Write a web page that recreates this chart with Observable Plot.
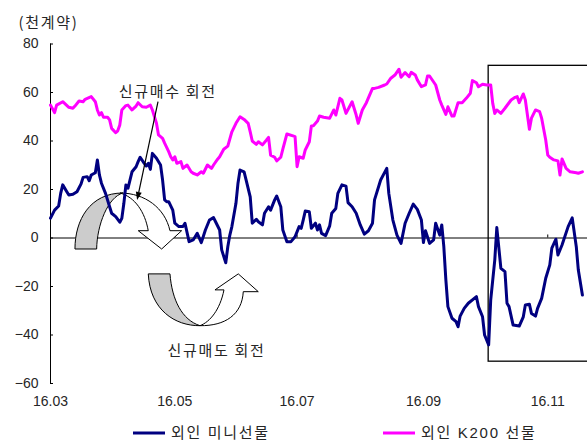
<!DOCTYPE html>
<html>
<head>
<meta charset="utf-8">
<script src="https://cdn.jsdelivr.net/npm/d3@7"></script>
<script src="https://cdn.jsdelivr.net/npm/@observablehq/plot@0.6"></script>
<style>
  html, body { margin: 0; padding: 0; background: #fff; }
  svg { display: block; }
</style>
</head>
<body>
<div id="chart"></div>
<script>
// Foreign open interest in KOSPI200 futures (thousand contracts), 2016
const YEAR = 2016;

// 외인 미니선물
const miniDates = [
  "03-02","03-04","03-06","03-07","03-08","03-10","03-11","03-13","03-15","03-17",
  "03-18","03-20","03-21","03-22","03-24","03-25","03-26","03-27","03-29","03-31",
  "04-01","04-03","04-05","04-06","04-07","04-08","04-09","04-10","04-11","04-13",
  "04-14","04-15","04-17","04-18","04-19","04-20","04-21","04-23","04-25","04-26",
  "04-27","04-28","04-29","05-01","05-02","05-04","05-06","05-07","05-09","05-11",
  "05-13","05-15","05-17","05-19","05-21","05-22","05-24","05-25","05-27","05-28",
  "05-29","05-30","06-01","06-02","06-03","06-05","06-06","06-08","06-09","06-11",
  "06-12","06-14","06-15","06-17","06-18","06-20","06-21","06-23","06-24","06-26",
  "06-28","06-30","07-02","07-03","07-04","07-05","07-07","07-08","07-10","07-11",
  "07-12","07-13","07-15","07-17","07-18","07-20","07-21","07-23","07-25","07-26",
  "07-28","07-30","08-01","08-03","08-05","08-07","08-08","08-11","08-14","08-15",
  "08-17","08-19","08-21","08-23","08-25","08-27","08-29","08-31","09-01","09-02",
  "09-04","09-06","09-07","09-09","09-10","09-11","09-12","09-13","09-15","09-17",
  "09-18","09-19","09-21","09-23","09-27","09-28","09-30","10-01","10-03","10-04",
  "10-06","10-07","10-09","10-11","10-12","10-13","10-15","10-18","10-20","10-21",
  "10-23","10-24","10-26","10-27","10-29","10-31","11-02","11-03","11-05","11-06",
  "11-08","11-11","11-13","11-15","11-16","11-18"
];
const miniValues = [
  8.2, 11.5, 13.2, 18.4, 21.9, 19.1, 17.7, 18, 19.1, 22.3,
  25, 25.3, 23.6, 26, 26.9, 32.2, 26, 22.6, 18.4, 12.9,
  10.2, 8.8, 6.5, 8.1, 14.3, 21.9, 20.5, 23.9, 27.3, 29.4,
  31.5, 33.3, 30.8, 29.7, 30.8, 28.3, 34.9, 32.9, 30.1, 23.9,
  15.7, 15, 15, 11.5, 6.1, 4.7, 4.7, 6.1, -1.5, -0.8,
  1.9, -1.9, 3.3, 7.4, 8.4, 6.7, 3.3, -4.9, -10.2, -3.6,
  1.2, 4.7, 14.3, 22.6, 28, 27.3, 23.9, 17, 6.1, 7.7,
  6.7, 5.4, 10.2, 12.9, 11.5, 15.7, 17.3, 12.9, 3.3, -1.5,
  -1.5, 0.5, 4.7, 4, 7.4, 11.1, 10.8, 4, 6.1, 3.3,
  5.4, 1.9, 1, 5, 10.2, 12.2, 18.4, 21.9, 21.4, 14.6,
  12.9, 10.2, 5.4, 1.6, 3, 6.1, 15.7, 23.9, 28.7, 18.4,
  7.4, 1.2, -2.2, 6.1, 10.2, 14, 11.8, 7.4, -1.9, 3,
  -2.2, -0.8, 6.1, 1.2, 5.4, -3.6, -17.3, -28.3, -33.1, -34.5,
  -36.6, -32.2, -29, -26.9, -24.2, -28.3, -32.5, -40, -44.1, -25.6,
  -9.1, 4.3, -12.5, -13.9, -26.9, -28.3, -35.9, -36.3, -32.5, -27.6,
  -27.3, -31.1, -32.2, -29, -24.9, -16.6, -11.1, -4.2, -0.5, -7,
  -2.9, 4.7, 8.3, -3.6, -13.2, -23.5
];

// 외인 K200 선물
const k200Dates = [
  "03-02","03-04","03-05","03-08","03-11","03-13","03-14","03-16","03-18","03-19",
  "03-22","03-24","03-25","03-26","03-27","03-28","03-30","03-31","04-01","04-03",
  "04-04","04-05","04-06","04-08","04-09","04-11","04-13","04-14","04-16","04-18",
  "04-20","04-21","04-23","04-24","04-26","04-27","04-28","04-29","04-30","05-01",
  "05-02","05-03","05-05","05-06","05-08","05-10","05-11","05-13","05-15","05-16",
  "05-18","05-20","05-21","05-23","05-24","05-26","05-28","05-30","06-01","06-03",
  "06-05","06-07","06-08","06-09","06-11","06-12","06-14","06-16","06-17","06-18",
  "06-20","06-21","06-23","06-24","06-26","06-29","06-30","07-01","07-02","07-04",
  "07-05","07-07","07-08","07-09","07-11","07-12","07-14","07-17","07-19","07-20",
  "07-22","07-23","07-25","07-28","07-30","07-31","08-02","08-04","08-07","08-08",
  "08-10","08-13","08-14","08-16","08-18","08-20","08-21","08-23","08-25","08-26",
  "08-28","08-29","08-31","09-02","09-03","09-04","09-07","09-09","09-10","09-12",
  "09-13","09-15","09-16","09-18","09-20","09-22","09-24","09-25","09-27","09-28",
  "09-30","10-02","10-04","10-05","10-06","10-07","10-09","10-11","10-14","10-16",
  "10-17","10-18","10-20","10-21","10-23","10-24","10-26","10-28","10-29","10-31",
  "11-01","11-02","11-04","11-06","11-07","11-08","11-10","11-12","11-15","11-16",
  "11-18"
];
const k200Values = [
  54.8, 51.7, 54.8, 56.2, 53.9, 53.5, 54.4, 56.5, 56.2, 57.2,
  58.3, 56.2, 52.8, 50.7, 51.7, 49.8, 49.8, 48.7, 45.2, 43.4,
  44.2, 46.6, 52.8, 54.6, 54.8, 52.8, 54.4, 55.8, 54.1, 53.9,
  54.8, 52.8, 47.3, 42.5, 41.1, 39.1, 37.4, 35.6, 33.5, 32.2,
  33.5, 30.8, 31.5, 28.7, 30.1, 27.3, 26.7, 26, 27.3, 26.7,
  30.1, 28.7, 30.1, 32.5, 33.5, 36.6, 37.9, 43.8, 47.3, 50,
  48.9, 47.3, 43.8, 40, 38.6, 39.7, 38.4, 40.4, 41.5, 34.2,
  33.3, 31.8, 33.3, 36.6, 42.9, 42.1, 41.8, 29.4, 33.5, 32.9,
  36.3, 39.7, 46.2, 46.3, 48.2, 50.3, 49.8, 49.4, 52.8, 50.7,
  57.6, 56.9, 51.4, 56.2, 50.7, 47.3, 52.8, 55.8, 61.7, 61.7,
  62.1, 63.1, 63.5, 65.9, 67.2, 69.6, 66.3, 68.2, 66.5, 68.3,
  67.2, 65.2, 62.4, 63.1, 66.8, 66.8, 63.1, 56.9, 54.8, 51,
  54.1, 50.3, 50.3, 55.8, 55.8, 57.6, 59.7, 64.9, 64, 62.4,
  63.4, 63.1, 63.1, 55.5, 51.4, 52.8, 51.4, 53.5, 56.9, 58,
  58.3, 55.8, 59.4, 56.9, 44.8, 49.4, 52.8, 52.1, 49.4, 40.4,
  34.2, 33.3, 32.2, 31.8, 26, 32.6, 28.7, 27.3, 26.9, 26.7,
  27.3
];

const yTicks = [-60, -40, -20, 0, 20, 40, 60, 80];
const xTickDates = ["03-02", "05-02", "07-01", "09-01", "11-01"];
const xTickLabels = ["16.03", "16.05", "16.07", "16.09", "16.11"];
const seriesNames = ["외인 미니선물", "외인 K200 선물"];
const seriesColors = ["#000080", "#ff00ff"];
const unitLabel = "(천계약)";
const buyNote = "신규매수 회전";
const sellNote = "신규매도 회전";

const day = (s, hours = 0) => new Date(Date.UTC(YEAR, +s.slice(0, 2) - 1, +s.slice(3, 5), hours));
const rows = (dates, values) => dates.map((d, i) => ({date: day(d), value: values[i]}));
const mini = rows(miniDates, miniValues);
const k200 = rows(k200Dates, k200Values);
const xTicks = xTickDates.map((d, i) => ({date: day(d), label: xTickLabels[i]}));

const W = 587, H = 441;
const M = {top: 43.5, right: 0, bottom: 58, left: 50};
const xDomain = [day("03-02"), day("11-20", 12)];
const yDomain = [-60, 80];

const hangul = "'Noto Sans CJK KR', 'Noto Sans', sans-serif";
const latin = "'Liberation Sans', Arial, 'Noto Sans CJK KR', sans-serif";
const ink = "#262626";

// window around the October turn, open on the right
const windowFrom = day("10-03"), windowTo = day("12-20");
const windowLow = -51, windowHigh = 71;

// note positions in data terms
const notes = [
  {date: day("04-28", 12), value: 60, text: buyNote},
  {date: day("05-22", 10), value: -46.6, text: sellNote}
];

const chart = Plot.plot({
  width: W,
  height: H,
  marginTop: M.top,
  marginRight: M.right,
  marginBottom: M.bottom,
  marginLeft: M.left,
  style: {fontFamily: latin, fontSize: "14px", color: ink, background: "#fff", overflow: "hidden"},
  x: {type: "utc", domain: xDomain, axis: null},
  y: {domain: yDomain},
  marks: [
    Plot.ruleY([0], {stroke: "black", strokeWidth: 1}),
    Plot.ruleX([xDomain[0]], {stroke: "black", strokeWidth: 1}),
    Plot.ruleY(yTicks, {stroke: "black", insetRight: W - M.left - M.right - 3}),
    Plot.ruleX(xTicks, {x: "date", y1: 0, y2: 1.25, stroke: "black"}),
    Plot.rect([0], {x1: windowFrom, x2: windowTo, y1: windowLow, y2: windowHigh,
      fill: "none", stroke: "black", strokeWidth: 1.3}),
    Plot.lineY(k200, {x: "date", y: "value", stroke: seriesColors[1], strokeWidth: 3, strokeLinejoin: "round"}),
    Plot.lineY(mini, {x: "date", y: "value", stroke: seriesColors[0], strokeWidth: 3, strokeLinejoin: "round"}),
    Plot.axisY({ticks: yTicks, tickSize: 0, tickPadding: 12, label: null, fontSize: 14, fill: ink}),
    Plot.text(xTicks, {x: "date", text: "label", frameAnchor: "bottom", dy: 22, fontSize: 14, fill: ink}),
    Plot.text([unitLabel], {frameAnchor: "top-left", dx: -32, dy: -20.5, textAnchor: "start",
      lineAnchor: "middle", fontFamily: hangul, fontSize: 15, fill: ink}),
    Plot.text(notes, {x: "date", y: "value", text: "text", fontFamily: hangul, fontSize: 15, fill: ink})
  ]
});

const svg = chart;
const xs = d3.scaleUtc(xDomain, [M.left, W - M.right]);
const ys = d3.scaleLinear(yDomain, [H - M.bottom, M.top]);

// curved rotation arrows, drawn beneath the series lines
const arrows = d3.create("svg:g")
  .attr("aria-label", "rotation arrows")
  .attr("stroke", "black")
  .attr("stroke-width", 1)
  .attr("stroke-linejoin", "miter");

const buyArrow = arrows.append("g")
  .attr("transform", `translate(${xs(day("03-14"))},${ys(0)})`);
buyArrow.append("path").attr("fill", "#cccccc")
  .attr("d", "M0.5,11.5 C0.5,-17.5 15.5,-44.5 48.5,-44.5 C33.5,-40.5 22.5,-12.5 22.2,11.5 Z");
buyArrow.append("path").attr("fill", "#fff")
  .attr("d", "M45.5,-44.5 C70.5,-44.5 90.5,-29.5 95.5,-6.8 L107.2,-6.8 L87.2,11.5 L63.8,-6.8 L73.8,-6.8 C70.5,-25.5 60.5,-40.5 45.5,-44.5 Z");

const sellArrow = arrows.append("g")
  .attr("transform", `translate(${xs(day("05-01"))},${ys(-15)})`);
sellArrow.append("path").attr("fill", "#cccccc")
  .attr("d", "M-24,0 L-2.3,0 C-0.3,26 9.7,46 27.7,51.8 C2.7,52.1 -22.3,36 -24,0 Z");
sellArrow.append("path").attr("fill", "#fff")
  .attr("d", "M27.7,51.8 C52.7,52.1 69.7,41 71,17.8 L86,17.8 L66,0 L42.7,16 L51.7,16 C47.7,36 37.7,48 27.7,51.8 Z");

svg.insertBefore(arrows.node(), svg.querySelector('g[aria-label="line"]'));

// pointer from the buy note down to its arrow
const p0 = [xs(day("04-24")), ys(56)];
const p1 = [xs(day("04-13", 18)), ys(15.5)];
const ang = Math.atan2(p1[1] - p0[1], p1[0] - p0[0]);
const headLen = 8, headHalf = 3;
const base = [p1[0] - headLen * Math.cos(ang), p1[1] - headLen * Math.sin(ang)];
const nx = -Math.sin(ang), ny = Math.cos(ang);
const pointer = d3.select(svg).append("g").attr("aria-label", "pointer");
pointer.append("line")
  .attr("x1", p0[0]).attr("y1", p0[1]).attr("x2", base[0]).attr("y2", base[1])
  .attr("stroke", "black").attr("stroke-width", 1.2);
pointer.append("path")
  .attr("fill", "black")
  .attr("d", `M${p1[0]},${p1[1]} L${base[0] + nx * headHalf},${base[1] + ny * headHalf} L${base[0] - nx * headHalf},${base[1] - ny * headHalf} Z`);

// legend below the plot
const legend = d3.select(svg).append("g").attr("aria-label", "legend");
const legendItems = [{x: 133, name: seriesNames[0], color: seriesColors[0]},
                     {x: 383, name: seriesNames[1], color: seriesColors[1]}];
const legendY = 433;
for (const item of legendItems) {
  legend.append("line")
    .attr("x1", item.x).attr("x2", item.x + 32)
    .attr("y1", legendY).attr("y2", legendY)
    .attr("stroke", item.color).attr("stroke-width", 3);
  legend.append("text")
    .attr("x", item.x + 38).attr("y", legendY).attr("dy", "0.35em")
    .attr("text-anchor", "start")
    .attr("fill", ink)
    .style("font-family", latin)
    .style("font-size", "15px")
    .text(item.name);
}

// spread out Korean lettering
d3.select(svg).selectAll("text").each(function () {
  if (/[\uac00-\ud7a3]/.test(this.textContent)) this.style.letterSpacing = "1.7px";
});

document.getElementById("chart").appendChild(svg);
</script>
</body>
</html>
